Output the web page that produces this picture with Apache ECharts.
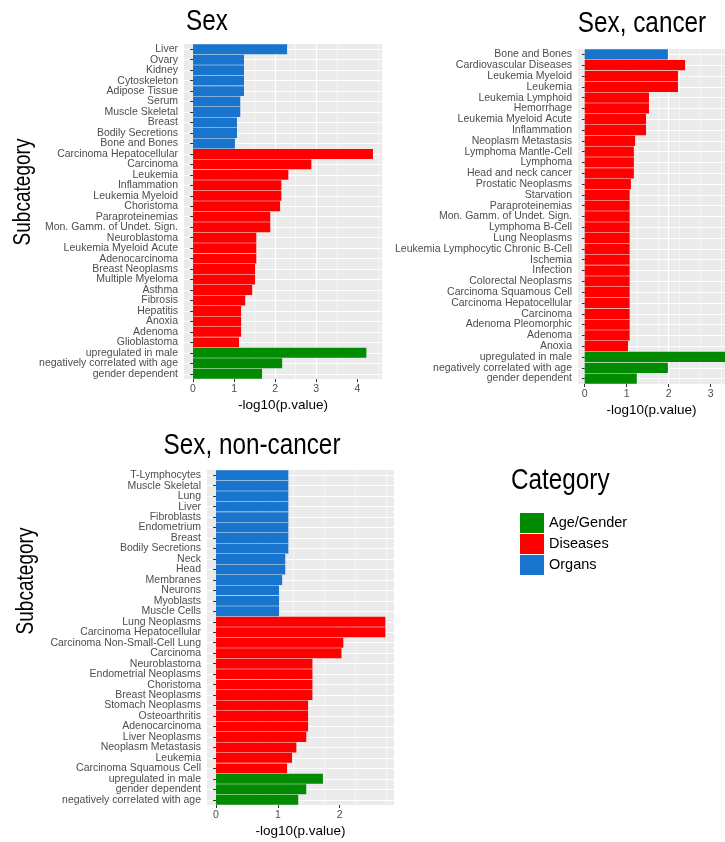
<!DOCTYPE html>
<html>
<head>
<meta charset="utf-8">
<script src="https://cdn.jsdelivr.net/npm/echarts@6/dist/echarts.min.js"></script>
<style>
  html, body { margin: 0; padding: 0; background: #fff; }
  #chart { width: 725px; height: 842px; }
</style>
</head>
<body>
<div id="chart"></div>
<script>
// legend categories
const groupCodes = ['A', 'D', 'O']
const groupNames = ['Age/Gender', 'Diseases', 'Organs']
const groupColors = ['#008B00', '#FF0000', '#1874CD']

// panel 1: Sex
const sexLabels = ['Liver', 'Ovary', 'Kidney', 'Cytoskeleton', 'Adipose Tissue', 'Serum', 'Muscle Skeletal', 'Breast',
  'Bodily Secretions', 'Bone and Bones', 'Carcinoma Hepatocellular', 'Carcinoma', 'Leukemia', 'Inflammation',
  'Leukemia Myeloid', 'Choristoma', 'Paraproteinemias', 'Mon. Gamm. of Undet. Sign.', 'Neuroblastoma',
  'Leukemia Myeloid Acute', 'Adenocarcinoma', 'Breast Neoplasms', 'Multiple Myeloma', 'Asthma', 'Fibrosis',
  'Hepatitis', 'Anoxia', 'Adenoma', 'Glioblastoma', 'upregulated in male', 'negatively correlated with age',
  'gender dependent']
const sexValues = [2.29, 1.24, 1.24, 1.24, 1.24, 1.15, 1.15, 1.07, 1.07, 1.02, 4.38, 2.88, 2.32, 2.15, 2.15, 2.12,
  1.88, 1.88, 1.54, 1.54, 1.54, 1.51, 1.51, 1.44, 1.27, 1.17, 1.17, 1.17, 1.12, 4.22, 2.17, 1.68]
const sexGroups = ['O', 'O', 'O', 'O', 'O', 'O', 'O', 'O', 'O', 'O', 'D', 'D', 'D', 'D', 'D', 'D', 'D', 'D', 'D',
  'D', 'D', 'D', 'D', 'D', 'D', 'D', 'D', 'D', 'D', 'A', 'A', 'A']
const sexTicks = [0, 1, 2, 3, 4]

// panel 2: Sex, cancer
const cancerLabels = ['Bone and Bones', 'Cardiovascular Diseases', 'Leukemia Myeloid', 'Leukemia', 'Leukemia Lymphoid',
  'Hemorrhage', 'Leukemia Myeloid Acute', 'Inflammation', 'Neoplasm Metastasis', 'Lymphoma Mantle-Cell', 'Lymphoma',
  'Head and neck cancer', 'Prostatic Neoplasms', 'Starvation', 'Paraproteinemias', 'Mon. Gamm. of Undet. Sign.',
  'Lymphoma B-Cell', 'Lung Neoplasms', 'Leukemia Lymphocytic Chronic B-Cell', 'Ischemia', 'Infection',
  'Colorectal Neoplasms', 'Carcinoma Squamous Cell', 'Carcinoma Hepatocellular', 'Carcinoma', 'Adenoma Pleomorphic',
  'Adenoma', 'Anoxia', 'upregulated in male', 'negatively correlated with age', 'gender dependent']
const cancerValues = [1.98, 2.39, 2.22, 2.22, 1.53, 1.53, 1.46, 1.46, 1.20, 1.17, 1.17, 1.17, 1.10, 1.07, 1.07, 1.07,
  1.07, 1.07, 1.07, 1.07, 1.07, 1.07, 1.07, 1.07, 1.07, 1.07, 1.07, 1.03, 3.5, 1.98, 1.24]
const cancerGroups = ['O', 'D', 'D', 'D', 'D', 'D', 'D', 'D', 'D', 'D', 'D', 'D', 'D', 'D', 'D', 'D', 'D', 'D', 'D',
  'D', 'D', 'D', 'D', 'D', 'D', 'D', 'D', 'D', 'A', 'A', 'A']
const cancerTicks = [0, 1, 2, 3]

// panel 3: Sex, non-cancer
const nonCancerLabels = ['T-Lymphocytes', 'Muscle Skeletal', 'Lung', 'Liver', 'Fibroblasts', 'Endometrium', 'Breast',
  'Bodily Secretions', 'Neck', 'Head', 'Membranes', 'Neurons', 'Myoblasts', 'Muscle Cells', 'Lung Neoplasms',
  'Carcinoma Hepatocellular', 'Carcinoma Non-Small-Cell Lung', 'Carcinoma', 'Neuroblastoma', 'Endometrial Neoplasms',
  'Choristoma', 'Breast Neoplasms', 'Stomach Neoplasms', 'Osteoarthritis', 'Adenocarcinoma', 'Liver Neoplasms',
  'Neoplasm Metastasis', 'Leukemia', 'Carcinoma Squamous Cell', 'upregulated in male', 'gender dependent',
  'negatively correlated with age']
const nonCancerValues = [1.17, 1.17, 1.17, 1.17, 1.17, 1.17, 1.17, 1.17, 1.12, 1.12, 1.07, 1.02, 1.02, 1.02, 2.74,
  2.74, 2.06, 2.03, 1.56, 1.56, 1.56, 1.56, 1.49, 1.49, 1.49, 1.46, 1.30, 1.23, 1.15, 1.73, 1.46, 1.33]
const nonCancerGroups = ['O', 'O', 'O', 'O', 'O', 'O', 'O', 'O', 'O', 'O', 'O', 'O', 'O', 'O', 'D', 'D', 'D', 'D',
  'D', 'D', 'D', 'D', 'D', 'D', 'D', 'D', 'D', 'D', 'D', 'A', 'A', 'A']
const nonCancerTicks = [0, 1, 2]

const panels = [
  { title: 'Sex', labels: sexLabels, values: sexValues, groups: sexGroups, ticks: sexTicks },
  { title: 'Sex, cancer', labels: cancerLabels, values: cancerValues, groups: cancerGroups, ticks: cancerTicks },
  { title: 'Sex, non-cancer', labels: nonCancerLabels, values: nonCancerValues, groups: nonCancerGroups, ticks: nonCancerTicks }
]

// layout of each panel (pixels)
const layouts = [
  { left: 184, top: 44, width: 198, height: 335, min: -0.22, max: 4.6, titleX: 207, titleY: 21.5, yNameX: 24, yNameY: 192 },
  { left: 578, top: 49, width: 147, height: 335, min: -0.16, max: 3.34, titleX: 642, titleY: 24, yNameX: null, yNameY: null },
  { left: 207, top: 470, width: 187, height: 335, min: -0.146, max: 2.88, titleX: 252, titleY: 446, yNameX: 27, yNameY: 581 }
]

const regular = "'Liberation Sans', Arial, sans-serif"
const narrowScale = 0.81 // Arial Narrow look

const grids = [], xAxes = [], yAxes = [], series = [], texts = []
panels.forEach((p, i) => {
  const L = layouts[i]
  grids.push({
    left: L.left, top: L.top, width: L.width, height: L.height,
    show: true, backgroundColor: '#EBEBEB', borderWidth: 0, containLabel: false
  })
  texts.push({
    type: 'text', x: L.titleX, y: L.titleY, scaleX: narrowScale, silent: true,
    style: { text: p.title, fontFamily: regular, fontSize: 30, fill: '#000', align: 'center', verticalAlign: 'middle' }
  })
  if (L.yNameX !== null) {
    texts.push({
      type: 'text', x: L.yNameX, y: L.yNameY, rotation: Math.PI / 2, scaleX: narrowScale, silent: true,
      style: { text: 'Subcategory', fontFamily: regular, fontSize: 23.5, fill: '#000', align: 'center', verticalAlign: 'middle' }
    })
  }
  xAxes.push({
    type: 'value', gridIndex: i, min: L.min, max: L.max,
    name: '-log10(p.value)', nameLocation: 'middle', nameGap: 19,
    nameTextStyle: { fontFamily: regular, fontSize: 13.5, color: '#000' },
    axisLine: { show: false },
    axisTick: { show: true, length: 3, lineStyle: { color: '#333' }, customValues: p.ticks },
    axisLabel: { color: '#4D4D4D', fontFamily: regular, fontSize: 10.5, margin: 5, customValues: p.ticks },
    splitLine: { show: true, showMinLine: false, showMaxLine: false, lineStyle: { color: '#fff', width: 1.1 } },
    minorTick: { show: false, splitNumber: 2 },
    minorSplitLine: { show: true, lineStyle: { color: '#fff', width: 0.5 } }
  })
  yAxes.push({
    type: 'category', gridIndex: i, inverse: true, data: p.labels,
    axisLine: { show: false },
    axisTick: { show: true, alignWithLabel: true, interval: 0, length: 3, lineStyle: { color: '#333' } },
    axisLabel: { interval: 0, color: '#4D4D4D', fontFamily: regular, fontSize: 10.5, margin: 6 },
    splitLine: { show: true, interval: 0, alignWithLabel: true, lineStyle: { color: '#fff', width: 1.1 } }
  })
  groupCodes.forEach((code, g) => {
    series.push({
      name: groupNames[g], type: 'bar', xAxisIndex: i, yAxisIndex: i, stack: 'p' + i,
      barCategoryGap: '5%', silent: true, clip: true,
      itemStyle: { color: groupColors[g] },
      data: p.values.map((v, k) => (p.groups[k] === code ? v : '-'))
    })
  })
})

// legend title
texts.push({
  type: 'text', x: 511, y: 481, scaleX: narrowScale, silent: true,
  style: { text: 'Category', fontFamily: regular, fontSize: 30, fill: '#000', align: 'left', verticalAlign: 'middle' }
})

const chart = echarts.init(document.getElementById('chart'), null, { renderer: 'canvas' })
chart.setOption({
  animation: false,
  legend: {
    data: groupNames, orient: 'vertical', left: 520, top: 513, padding: 0,
    icon: 'rect', itemWidth: 24, itemHeight: 20, itemGap: 1, selectedMode: false,
    textStyle: { fontFamily: regular, fontSize: 14.5, color: '#000' }
  },
  grid: grids,
  xAxis: xAxes,
  yAxis: yAxes,
  series: series,
  graphic: { elements: texts }
})
</script>
</body>
</html>
